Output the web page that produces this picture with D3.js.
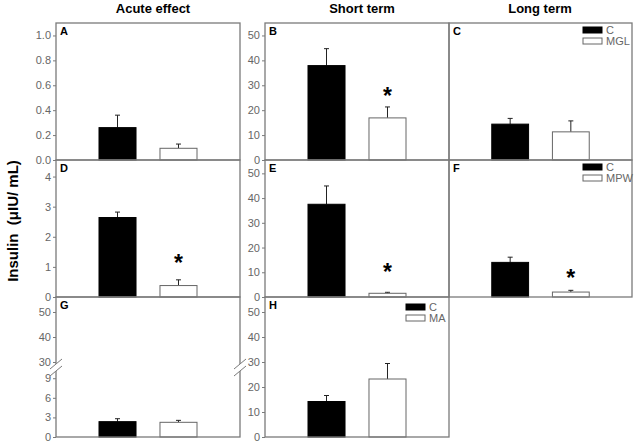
<!DOCTYPE html>
<html>
<head>
<meta charset="utf-8">
<script src="https://cdn.jsdelivr.net/npm/d3@7"></script>
<style>
  body { margin: 0; background: #fff; }
  text { font-family: Arial, "Liberation Sans", sans-serif; }
</style>
</head>
<body>
<svg id="chart"></svg>
<script>
// values
const groups = ["C", "T"]
const columnTitles = ["Acute effect", "Short term", "Long term"]
const panelIds = ["A", "B", "C", "D", "E", "F", "G", "H"]
const controlMean = [0.26, 37.9, 14.4, 2.64, 37.5, 14.0, 2.35, 14.2]
const controlErr = [0.1, 6.8, 2.3, 0.18, 7.4, 2.1, 0.45, 2.4]
const treatMean = [0.094, 16.9, 11.3, 0.38, 1.5, 2.0, 2.25, 23.2]
const treatErr = [0.034, 4.4, 4.4, 0.19, 0.4, 0.7, 0.3, 6.2]
// asterisk (significance) marks on the treated bar, in data units
const starAt = [null, 27.6, null, 1.3, 12.1, 9.9, null, null]
const yMax = [1.1, 55, 55, 4.55, 55.4, 55.4, 10, 56]
const legendLabels = { C: ["C", "MGL"], F: ["C", "MPW"], H: ["C", "MA"] }
const ticksA = [0, 0.2, 0.4, 0.6, 0.8, 1.0]
const ticks50 = [0, 10, 20, 30, 40, 50]
const ticksD = [0, 1, 2, 3, 4]
const ticksGLow = [0, 3, 6, 9]
const ticksGHigh = [30, 40, 50]
const gHighDomain = [30, 56]

const width = 638
const height = 445
const cols = [[56, 240], [265, 449], [449, 632]]
const rows = [[23, 160], [160, 297], [297, 437]]
const panelRow = [0, 0, 0, 1, 1, 1, 2, 2]
const panelCol = [0, 1, 2, 0, 1, 2, 0, 1]
const frameColor = "#7a7a7a"
const tickColor = "#666"

const svg = d3.select("#chart").attr("width", width).attr("height", height)

// column titles
const titleX = [153, 362, 540]
svg
  .append("g")
  .selectAll("text")
  .data(columnTitles)
  .enter()
  .append("text")
  .attr("x", (d, i) => titleX[i])
  .attr("y", 13)
  .attr("text-anchor", "middle")
  .attr("font-size", 13)
  .attr("font-weight", "bold")
  .text((d) => d)

// y axis label
svg
  .append("text")
  .attr("transform", "translate(18,221) rotate(-90)")
  .attr("text-anchor", "middle")
  .attr("font-size", 15)
  .attr("font-weight", "bold")
  .style("white-space", "pre")
  .text("Insulin  (\u03bcIU/ mL)")

const styleAxis = (g) => {
  g.select(".domain").remove()
  g.selectAll(".tick line").attr("stroke", frameColor)
  g.selectAll(".tick text")
    .attr("fill", tickColor)
    .attr("font-size", 11)
    .attr("font-family", "Arial, 'Liberation Sans', sans-serif")
}

panelIds.forEach((id, i) => {
  const [x0, x1] = cols[panelCol[i]]
  const [y0, y1] = rows[panelRow[i]]
  const g = svg.append("g")

  const x = d3
    .scaleBand()
    .domain(groups)
    .range([x0, x1])
    .paddingInner(0.393)
    .paddingOuter(0.705)

  let y
  if (id === "G") {
    y = d3.scaleLinear().domain([0, yMax[i]]).range([y1, 371.7])
    const yHigh = d3.scaleLinear().domain(gHighDomain).range([362, y0])
    g.append("g")
      .attr("transform", "translate(" + x0 + ",0)")
      .call(d3.axisLeft(y).tickValues(ticksGLow).tickSize(3).tickPadding(2))
      .call(styleAxis)
    g.append("g")
      .attr("transform", "translate(" + x0 + ",0)")
      .call(d3.axisLeft(yHigh).tickValues(ticksGHigh).tickSize(3).tickPadding(2))
      .call(styleAxis)
  } else {
    y = d3.scaleLinear().domain([0, yMax[i]]).range([y1, y0])
    let ticks = null
    if (id === "A") ticks = ticksA
    if (id === "B" || id === "E" || id === "H") ticks = ticks50
    if (id === "D") ticks = ticksD
    if (ticks) {
      g.append("g")
        .attr("transform", "translate(" + x0 + ",0)")
        .call(
          d3
            .axisLeft(y)
            .tickValues(ticks)
            .tickSize(3)
            .tickPadding(2)
            .tickFormat(id === "A" ? d3.format(".1f") : d3.format("d"))
        )
        .call(styleAxis)
    }
  }

  const bars = [
    { key: "C", mean: controlMean[i], err: controlErr[i] },
    { key: "T", mean: treatMean[i], err: treatErr[i] },
  ]

  /*
    Error bars (upper only)
  */
  const eb = g.append("g").attr("stroke", "#222").attr("stroke-width", 1)
  eb.selectAll(".stem")
    .data(bars)
    .enter()
    .append("line")
    .attr("x1", (d) => x(d.key) + x.bandwidth() / 2)
    .attr("x2", (d) => x(d.key) + x.bandwidth() / 2)
    .attr("y1", (d) => y(d.mean))
    .attr("y2", (d) => y(d.mean + d.err))
  eb.selectAll(".cap")
    .data(bars)
    .enter()
    .append("line")
    .attr("x1", (d) => x(d.key) + x.bandwidth() / 2 - 2.5)
    .attr("x2", (d) => x(d.key) + x.bandwidth() / 2 + 2.5)
    .attr("y1", (d) => y(d.mean + d.err))
    .attr("y2", (d) => y(d.mean + d.err))

  /*
    Bars
  */
  g.append("g")
    .selectAll("rect")
    .data(bars)
    .enter()
    .append("rect")
    .attr("x", (d) => x(d.key))
    .attr("width", x.bandwidth())
    .attr("y", (d) => y(d.mean))
    .attr("height", (d) => y(0) - y(d.mean))
    .attr("fill", (d) => (d.key === "C" ? "#000" : "#fff"))
    .attr("stroke", (d) => (d.key === "C" ? "#000" : "#666"))
    .attr("stroke-width", 1)

  // frame
  g.append("rect")
    .attr("x", x0)
    .attr("y", y0)
    .attr("width", x1 - x0)
    .attr("height", y1 - y0)
    .attr("fill", "none")
    .attr("stroke", frameColor)
    .attr("stroke-width", 1.3)

  // panel letter
  g.append("text")
    .attr("x", x0 + 4)
    .attr("y", y0 + 12)
    .attr("font-size", 11)
    .attr("font-weight", "bold")
    .text(id)

  if (starAt[i] !== null) {
    g.append("text")
      .attr("x", x("T") + x.bandwidth() / 2)
      .attr("y", y(starAt[i]) + 13)
      .attr("text-anchor", "middle")
      .attr("font-size", 23)
      .attr("font-weight", "bold")
      .text("*")
  }

  if (legendLabels[id]) {
    const lx = x1 - (id === "H" ? 43 : 49)
    const ly = y0 + (id === "H" ? 7 : 4)
    const lg = g.append("g")
    lg.selectAll("rect")
      .data(legendLabels[id])
      .enter()
      .append("rect")
      .attr("x", lx)
      .attr("y", (d, k) => ly + k * 11)
      .attr("width", 19)
      .attr("height", 6)
      .attr("fill", (d, k) => (k === 0 ? "#000" : "#fff"))
      .attr("stroke", (d, k) => (k === 0 ? "#000" : "#666"))
    lg.selectAll("text")
      .data(legendLabels[id])
      .enter()
      .append("text")
      .attr("x", lx + 23)
      .attr("y", (d, k) => ly + 7 + k * 11)
      .attr("font-size", 11)
      .attr("fill", tickColor)
      .text((d) => d)
  }

  if (id === "G") {
    // axis break marks on both edges
    ;[x0, x1].forEach((bx) => {
      g.append("polygon")
        .attr(
          "points",
          [
            [bx - 6, 369],
            [bx + 6, 359],
            [bx + 6, 366],
            [bx - 6, 376],
          ].join(" ")
        )
        .attr("fill", "#fff")
      ;[0, 7].forEach((dy) => {
        g.append("line")
          .attr("x1", bx - 6)
          .attr("y1", 369 + dy)
          .attr("x2", bx + 6)
          .attr("y2", 359 + dy)
          .attr("stroke", frameColor)
          .attr("stroke-width", 1)
      })
    })
  }
})
</script>
</body>
</html>
